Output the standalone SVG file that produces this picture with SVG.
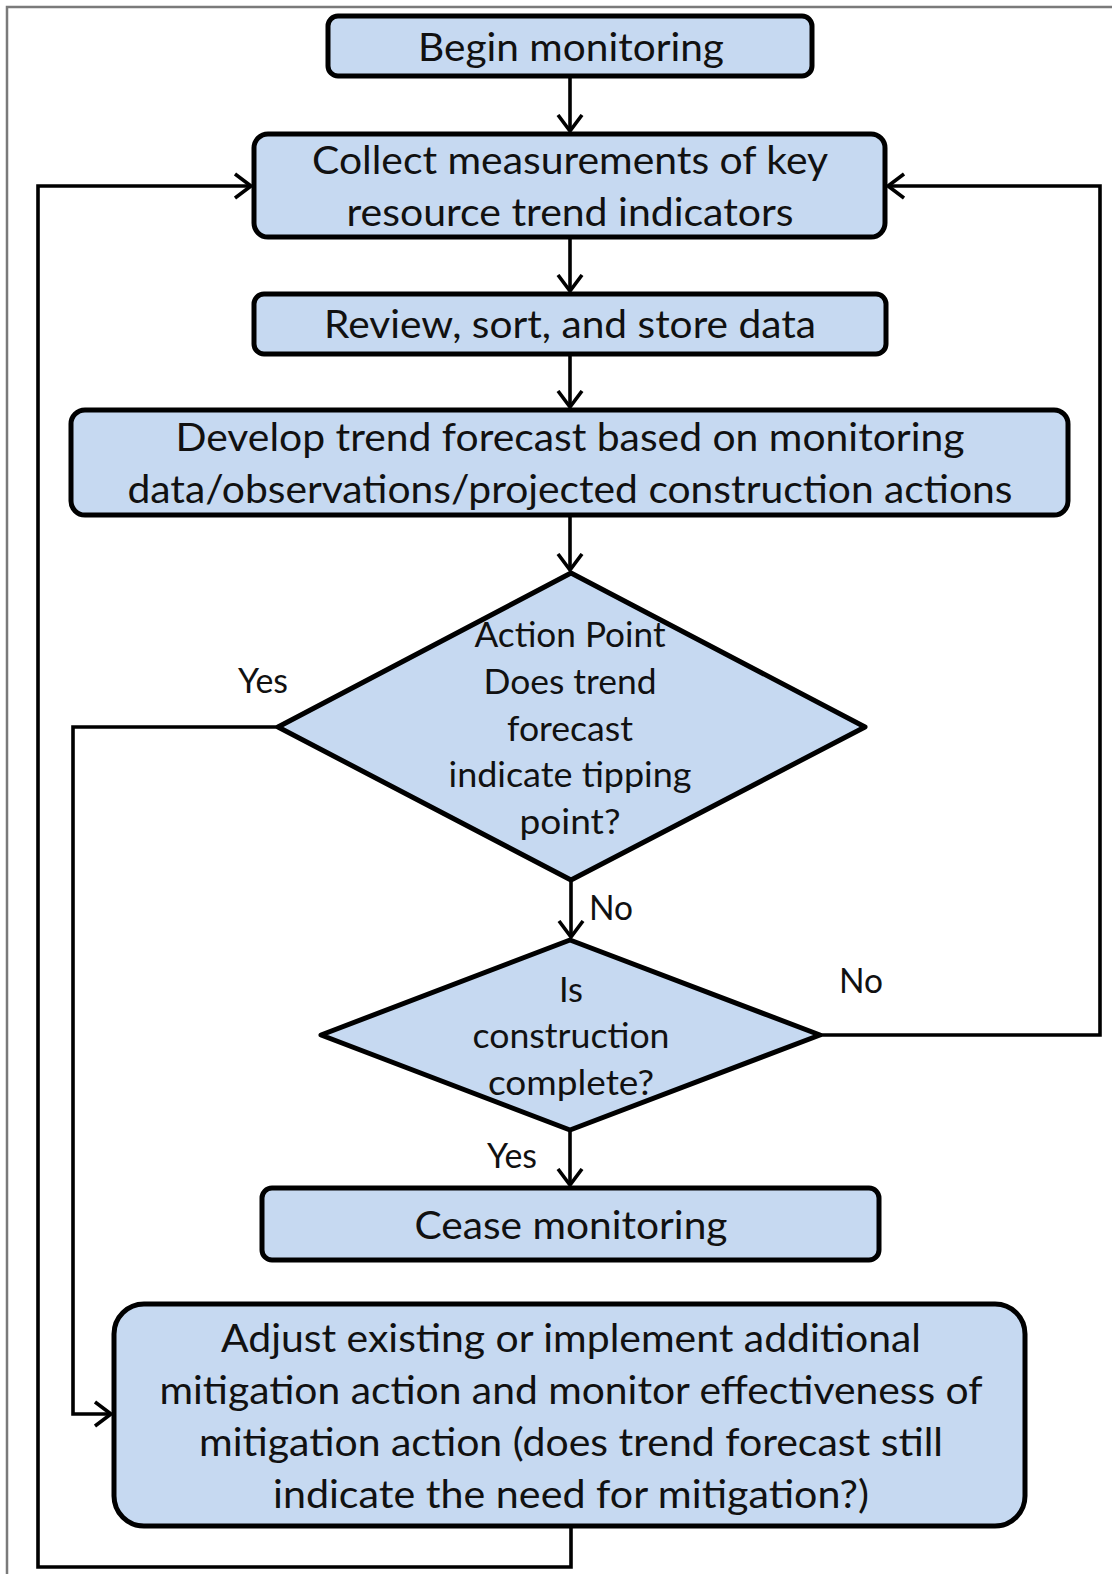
<svg xmlns="http://www.w3.org/2000/svg" width="1112" height="1574" viewBox="0 0 1112 1574">
<style>
.box{fill:#c6d9f1;stroke:#000;stroke-width:5}
.t{font-family:Lato,"Liberation Sans",sans-serif;font-size:39px;fill:#111;text-anchor:middle}
.d{font-size:35px}
.lbl{font-family:Lato,"Liberation Sans",sans-serif;font-size:34px;fill:#111;text-anchor:middle}
.c{fill:none;stroke:#000;stroke-width:3.6}
</style>
<defs>
<marker id="arr" markerUnits="userSpaceOnUse" markerWidth="24" markerHeight="30" refX="17" refY="13" orient="auto" viewBox="0 0 24 26">
<path d="M1,1 L17,13 L1,25" fill="none" stroke="#000" stroke-width="3.6"/>
</marker>
</defs>
<rect width="1112" height="1574" fill="#fff"/>
<path d="M7,1574 V7 H1112" fill="none" stroke="#7a7a7a" stroke-width="2.5"/>
<g id="connectors">
<path class="c" d="M570,76 V131" marker-end="url(#arr)"/>
<path class="c" d="M570,237 V291" marker-end="url(#arr)"/>
<path class="c" d="M570,354 V407" marker-end="url(#arr)"/>
<path class="c" d="M570,515 V570" marker-end="url(#arr)"/>
<path class="c" d="M571,880 V937" marker-end="url(#arr)"/>
<path class="c" d="M570,1130 V1185" marker-end="url(#arr)"/>
<path class="c" d="M820,1035 H1100 V186 H888" marker-end="url(#arr)"/>
<path class="c" d="M278,727 H73 V1414 H111" marker-end="url(#arr)"/>
<path class="c" d="M571,1526 V1567 H38 V186 H251" marker-end="url(#arr)"/>
<text class="lbl" x="263" y="693" textLength="50" lengthAdjust="spacingAndGlyphs">Yes</text>
<text class="lbl" x="611" y="920" textLength="44" lengthAdjust="spacingAndGlyphs">No</text>
<text class="lbl" x="861" y="993" textLength="44" lengthAdjust="spacingAndGlyphs">No</text>
<text class="lbl" x="512" y="1168" textLength="50" lengthAdjust="spacingAndGlyphs">Yes</text>
</g>
<g id="begin">
<rect class="box" x="328" y="16" width="484" height="60" rx="10"/>
<text class="t" x="571" y="61" textLength="306" lengthAdjust="spacingAndGlyphs">Begin monitoring</text>
</g>
<g id="collect">
<rect class="box" x="254" y="134" width="631" height="103" rx="14"/>
<text class="t" x="570" y="174" textLength="516" lengthAdjust="spacingAndGlyphs">Collect measurements of key</text>
<text class="t" x="570" y="226" textLength="447" lengthAdjust="spacingAndGlyphs">resource trend indicators</text>
</g>
<g id="review">
<rect class="box" x="254" y="294" width="632" height="60" rx="10"/>
<text class="t" x="570" y="338" textLength="492" lengthAdjust="spacingAndGlyphs">Review, sort, and store data</text>
</g>
<g id="develop">
<rect class="box" x="71" y="410" width="997" height="105" rx="14"/>
<text class="t" x="570" y="451" textLength="789" lengthAdjust="spacingAndGlyphs">Develop trend forecast based on monitoring</text>
<text class="t" x="570" y="503" textLength="885" lengthAdjust="spacingAndGlyphs">data/observations/projected construction actions</text>
</g>
<g id="decision-tipping">
<polygon class="box" points="571,573 865,727 571,880 278,727" stroke-linejoin="round"/>
<text class="t d" x="570" y="647" textLength="191" lengthAdjust="spacingAndGlyphs">Action Point</text>
<text class="t d" x="570" y="694" textLength="173" lengthAdjust="spacingAndGlyphs">Does trend</text>
<text class="t d" x="570" y="741" textLength="126" lengthAdjust="spacingAndGlyphs">forecast</text>
<text class="t d" x="570" y="787" textLength="243" lengthAdjust="spacingAndGlyphs">indicate tipping</text>
<text class="t d" x="570" y="834" textLength="101" lengthAdjust="spacingAndGlyphs">point?</text>
</g>
<g id="decision-complete">
<polygon class="box" points="570,940 820,1035 570,1130 321,1035" stroke-linejoin="round"/>
<text class="t d" x="571" y="1002" textLength="24" lengthAdjust="spacingAndGlyphs">Is</text>
<text class="t d" x="571" y="1048" textLength="197" lengthAdjust="spacingAndGlyphs">construction</text>
<text class="t d" x="571" y="1095" textLength="166" lengthAdjust="spacingAndGlyphs">complete?</text>
</g>
<g id="cease">
<rect class="box" x="262" y="1188" width="617" height="72" rx="10"/>
<text class="t" x="571" y="1239" textLength="313" lengthAdjust="spacingAndGlyphs">Cease monitoring</text>
</g>
<g id="adjust">
<rect class="box" x="114" y="1304" width="911" height="222" rx="30"/>
<text class="t" x="571" y="1352" textLength="700" lengthAdjust="spacingAndGlyphs">Adjust existing or implement additional</text>
<text class="t" x="571" y="1404" textLength="823" lengthAdjust="spacingAndGlyphs">mitigation action and monitor effectiveness of</text>
<text class="t" x="571" y="1456" textLength="744" lengthAdjust="spacingAndGlyphs">mitigation action (does trend forecast still</text>
<text class="t" x="571" y="1508" textLength="596" lengthAdjust="spacingAndGlyphs">indicate the need for mitigation?)</text>
</g>
</svg>
